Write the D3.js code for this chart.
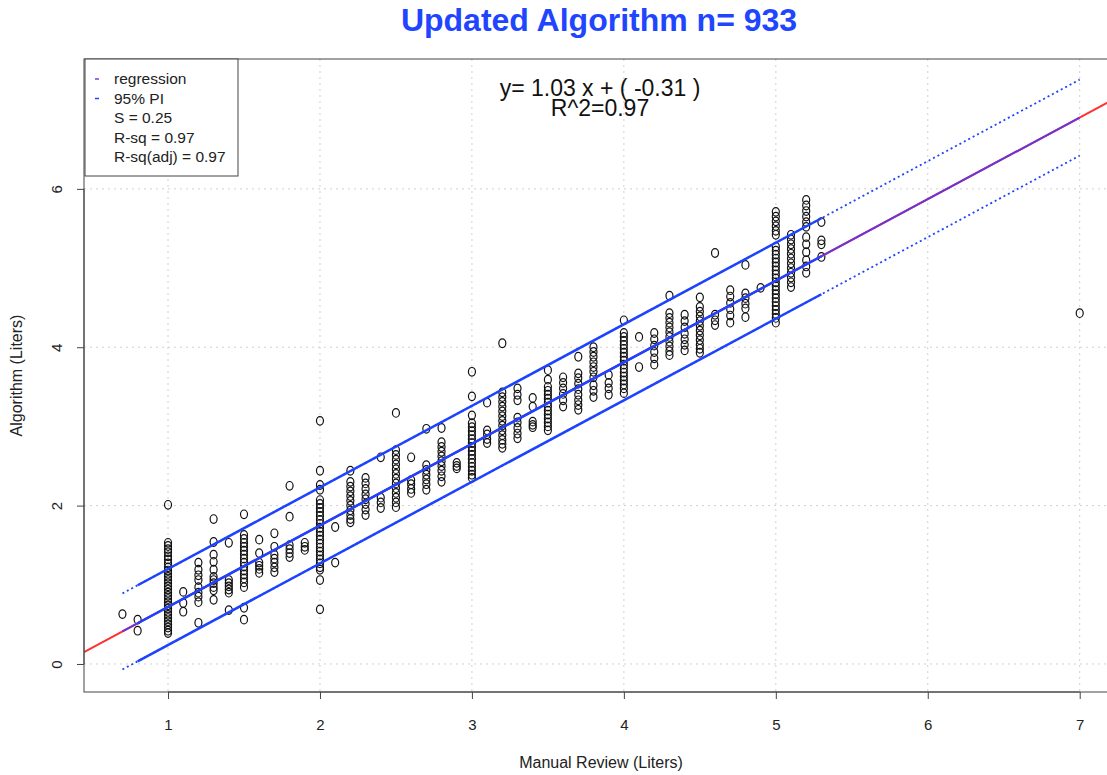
<!DOCTYPE html>
<html>
<head>
<meta charset="utf-8">
<script src="https://cdn.jsdelivr.net/npm/d3@7"></script>
<style>
  html, body { margin: 0; padding: 0; background: #fff; overflow: hidden; }
  svg { display: block; font-family: "Liberation Sans", Arial, sans-serif; }
</style>
</head>
<body>
<svg id="chart" width="1107" height="775"></svg>
<script>
// ─── Data ───────────────────────────────────────────────────────────────────
// One entry per manual-review value; algoY holds the algorithm readings there.
const manualX = [0.7, 0.8, 1.0, 1.1, 1.2, 1.3, 1.4, 1.5, 1.6, 1.7, 1.8, 1.9,
  2.0, 2.1, 2.2, 2.3, 2.4, 2.5, 2.6, 2.7, 2.8, 2.9, 3.0, 3.1, 3.2, 3.3, 3.4,
  3.5, 3.6, 3.7, 3.8, 3.9, 4.0, 4.1, 4.2, 4.3, 4.4, 4.5, 4.6, 4.7, 4.8, 4.9,
  5.0, 5.1, 5.2, 5.3, 7.0];

const algoY = [
  [0.63],
  [0.56, 0.42],
  [2.01, 1.53, 1.49, 1.45, 1.41, 1.36, 1.32, 1.27, 1.22, 1.18, 1.14, 1.10, 1.06, 1.02, 0.98,
   0.94, 0.90, 0.86, 0.82, 0.78, 0.74, 0.70, 0.66, 0.62, 0.58, 0.54, 0.50, 0.46, 0.42, 0.39],
  [0.91, 0.77, 0.66],
  [1.28, 1.19, 1.12, 1.06, 0.97, 0.90, 0.85, 0.78, 0.52],
  [1.83, 1.54, 1.38, 1.29, 1.19, 1.10, 1.06, 1.02, 0.97, 0.93, 0.81],
  [1.53, 1.06, 1.02, 0.98, 0.94, 0.90, 0.68],
  [1.89, 1.63, 1.58, 1.53, 1.48, 1.43, 1.38, 1.33, 1.28, 1.23, 1.18, 1.13, 1.08, 1.03, 0.97, 0.71, 0.56],
  [1.57, 1.40, 1.28, 1.24, 1.20, 1.15],
  [1.65, 1.48, 1.38, 1.33, 1.28, 1.22, 1.16],
  [2.25, 1.86, 1.50, 1.45, 1.40, 1.35],
  [1.53, 1.48, 1.44],
  [3.07, 2.44, 2.26, 2.20, 2.07, 2.02, 1.97, 1.92, 1.87, 1.82, 1.77, 1.72, 1.67, 1.62, 1.57,
   1.52, 1.47, 1.42, 1.37, 1.32, 1.27, 1.22, 1.19, 1.06, 0.69],
  [1.73, 1.28],
  [2.44, 2.30, 2.24, 2.18, 2.12, 2.06, 2.00, 1.94, 1.88, 1.83, 1.79],
  [2.35, 2.28, 2.21, 2.14, 2.08, 2.02, 1.95, 1.88],
  [2.61, 2.10, 2.04, 1.97],
  [3.17, 2.70, 2.64, 2.58, 2.52, 2.46, 2.40, 2.34, 2.28, 2.22, 2.16, 2.10, 2.04, 1.98],
  [2.61, 2.32, 2.27, 2.21, 2.16],
  [2.97, 2.51, 2.45, 2.39, 2.33, 2.27, 2.20],
  [2.98, 2.80, 2.74, 2.68, 2.62, 2.56, 2.50, 2.44, 2.37, 2.30],
  [2.54, 2.50, 2.47],
  [3.69, 3.38, 3.14, 3.04, 2.99, 2.94, 2.89, 2.84, 2.79, 2.74, 2.69, 2.64, 2.59, 2.54, 2.49, 2.44, 2.39, 2.35],
  [3.30, 2.95, 2.90, 2.84, 2.79],
  [4.05, 3.43, 3.37, 3.31, 3.25, 3.19, 3.13, 3.07, 3.01, 2.95, 2.89, 2.83, 2.78, 2.73],
  [3.48, 3.40, 3.33, 3.11, 3.05, 2.98, 2.91, 2.85],
  [3.36, 3.25, 3.06, 3.02, 2.99],
  [3.71, 3.59, 3.50, 3.45, 3.40, 3.35, 3.30, 3.25, 3.20, 3.15, 3.10, 3.05, 3.00, 2.95],
  [3.62, 3.55, 3.48, 3.41, 3.33, 3.25],
  [3.88, 3.67, 3.61, 3.54, 3.47, 3.40, 3.33, 3.27, 3.21],
  [4.00, 3.94, 3.88, 3.81, 3.75, 3.69, 3.62, 3.52, 3.45, 3.37],
  [3.65, 3.55, 3.48, 3.40],
  [4.34, 4.18, 4.13, 4.08, 4.03, 3.98, 3.93, 3.88, 3.83, 3.78, 3.73, 3.68, 3.63, 3.58, 3.53, 3.48, 3.42],
  [4.13, 3.75],
  [4.18, 4.10, 4.02, 3.94, 3.86, 3.78],
  [4.65, 4.43, 4.37, 4.31, 4.25, 4.19, 4.13, 4.07, 4.01, 3.95, 3.90],
  [4.41, 4.33, 4.25, 4.17, 4.10, 4.03, 3.96],
  [4.63, 4.51, 4.45, 4.39, 4.33, 4.27, 4.21, 4.15, 4.09, 4.03, 3.98, 3.93],
  [5.19, 4.41, 4.34, 4.28],
  [4.72, 4.64, 4.56, 4.48, 4.40, 4.31],
  [5.04, 4.68, 4.62, 4.55, 4.49, 4.38],
  [4.75],
  [5.71, 5.65, 5.59, 5.53, 5.47, 5.42, 5.27, 5.22, 5.17, 5.12, 5.07, 5.02, 4.97, 4.92, 4.87,
   4.82, 4.77, 4.72, 4.67, 4.62, 4.57, 4.52, 4.47, 4.42, 4.37, 4.31],
  [5.42, 5.36, 5.30, 5.24, 5.18, 5.12, 5.06, 5.00, 4.94, 4.88, 4.82, 4.76],
  [5.86, 5.79, 5.72, 5.65, 5.58, 5.52, 5.39, 5.30, 5.20, 5.10, 5.02, 4.94],
  [5.58, 5.35, 5.30, 5.14],
  [4.43]
];

const xTicks = [1, 2, 3, 4, 5, 6, 7];
const yTicks = [0, 2, 4, 6];

// Fitted line and 95% prediction interval
const fitSlope = 1.03;
const fitIntercept = -0.31;
const piHalfWidth = 0.48;
const fitRange = [0.7, 7.0];      // regression segment + dotted PI
const piSolidRange = [0.8, 5.3];  // solid PI / band segment

const titleText = 'Updated Algorithm n= 933';
const equationLines = ['y= 1.03 x + ( -0.31 )', 'R^2=0.97'];
const legendLabels = ['regression', '95% PI', 'S = 0.25', 'R-sq = 0.97', 'R-sq(adj) = 0.97'];
const legendColors = ['#7b3fd6', '#1d43ff', null, null, null];

// ─── Layout ──────────────────────────────────────────────────────────────────
const P = { left: 84, top: 59, right: 1118, bottom: 692 };

const RED = '#ff3030';
const BLUE = '#1d43ff';
const PURPLE = '#6a35d8';
const FONT = '"Liberation Sans", Arial, sans-serif';

const svg = d3.select('#chart');

const x = d3.scaleLinear().domain([0.447, 7.252]).range([P.left, P.right]);
const y = d3.scaleLinear().domain([-0.354, 7.64]).range([P.bottom, P.top]);

svg.append('defs').append('clipPath').attr('id', 'plotClip')
  .append('rect')
  .attr('x', P.left).attr('y', P.top)
  .attr('width', P.right - P.left).attr('height', P.bottom - P.top);

// ── Grid ───────────────────────────────────────────────────────────────────
const grid = svg.append('g')
  .attr('stroke', '#d0d0d0')
  .attr('stroke-width', 1)
  .attr('stroke-dasharray', '2,4');

grid.selectAll('line.v').data(xTicks).join('line')
  .attr('class', 'v')
  .attr('x1', d => x(d)).attr('x2', d => x(d))
  .attr('y1', P.top).attr('y2', P.bottom);

grid.selectAll('line.h').data(yTicks).join('line')
  .attr('class', 'h')
  .attr('x1', P.left).attr('x2', P.right)
  .attr('y1', d => y(d)).attr('y2', d => y(d));

// ── Points ───────────────────────────────────────────────────────────────────
const points = manualX.flatMap((mx, i) => algoY[i].map(v => ({ mx, v })));

svg.append('g')
  .attr('fill', 'none')
  .attr('stroke', '#111')
  .attr('stroke-width', 1.2)
  .selectAll('ellipse')
  .data(points)
  .join('ellipse')
  .attr('cx', d => x(d.mx))
  .attr('cy', d => y(d.v))
  .attr('rx', 3.5)
  .attr('ry', 4.3);

// ── Fit lines ──────────────────────────────────────────────────────────────
const fit = v => fitSlope * v + fitIntercept;
const lines = svg.append('g').attr('clip-path', 'url(#plotClip)').attr('fill', 'none');

function seg(x0, x1, off, color, width, dash) {
  lines.append('line')
    .attr('x1', x(x0)).attr('y1', y(fit(x0) + off))
    .attr('x2', x(x1)).attr('y2', y(fit(x1) + off))
    .attr('stroke', color)
    .attr('stroke-width', width)
    .attr('stroke-dasharray', dash || null);
}

// abline across the full plot
seg(x.domain()[0], x.domain()[1], 0, RED, 2);
// regression over the data range
seg(fitRange[0], fitRange[1], 0, PURPLE, 2);
// dotted PI over the data range
seg(fitRange[0], fitRange[1], piHalfWidth, BLUE, 1.8, '2,3');
seg(fitRange[0], fitRange[1], -piHalfWidth, BLUE, 1.8, '2,3');
// solid PI and centre band
seg(piSolidRange[0], piSolidRange[1], piHalfWidth, BLUE, 2.5);
seg(piSolidRange[0], piSolidRange[1], 0, BLUE, 2.5);
seg(piSolidRange[0], piSolidRange[1], -piHalfWidth, BLUE, 2.5);

// ── Frame + axes ─────────────────────────────────────────────────────────────
svg.append('rect')
  .attr('x', P.left).attr('y', P.top)
  .attr('width', P.right - P.left).attr('height', P.bottom - P.top)
  .attr('fill', 'none').attr('stroke', '#444').attr('stroke-width', 1);

const xAxis = svg.append('g')
  .attr('transform', `translate(0,${P.bottom})`)
  .call(d3.axisBottom(x).tickValues(xTicks).tickFormat(d3.format('d')).tickSizeOuter(0).tickSize(7).tickPadding(20));
xAxis.select('.domain').attr('d', `M${x(1)},0H${x(7)}`).attr('stroke', '#444');
xAxis.selectAll('.tick line').attr('stroke', '#444');
xAxis.selectAll('text').attr('font-size', 15).attr('fill', '#222').attr('font-family', FONT);

const yAxis = svg.append('g')
  .attr('transform', `translate(${P.left},0)`)
  .call(d3.axisLeft(y).tickValues(yTicks).tickFormat(d3.format('d')).tickSizeOuter(0).tickSize(7));
yAxis.select('.domain').attr('d', `M0,${y(0)}V${y(6)}`).attr('stroke', '#444');
yAxis.selectAll('.tick line').attr('stroke', '#444');
yAxis.selectAll('text')
  .attr('font-size', 15).attr('fill', '#222')
  .attr('font-family', FONT)
  .attr('x', null)
  .attr('text-anchor', 'middle')
  .attr('transform', 'translate(-27,0) rotate(-90)')
  .attr('dy', '0.35em');

// Axis titles
svg.append('text')
  .attr('x', (P.left + P.right) / 2).attr('y', 768)
  .attr('text-anchor', 'middle')
  .attr('font-size', 16).attr('fill', '#222')
  .text('Manual Review (Liters)');

svg.append('text')
  .attr('transform', `translate(22,${(P.top + P.bottom) / 2}) rotate(-90)`)
  .attr('text-anchor', 'middle')
  .attr('font-size', 16).attr('fill', '#222')
  .text('Algorithm (Liters)');

// Title
svg.append('text')
  .attr('x', 599).attr('y', 31)
  .attr('text-anchor', 'middle')
  .attr('font-size', 32).attr('font-weight', 'bold')
  .attr('fill', '#1f45ff')
  .text(titleText);

// Equation
svg.append('g').selectAll('text')
  .data(equationLines)
  .join('text')
  .attr('x', 600)
  .attr('y', (d, i) => 96 + i * 20)
  .attr('text-anchor', 'middle')
  .attr('font-size', 23).attr('fill', '#111')
  .text(d => d);

// ── Legend ─────────────────────────────────────────────────────────────────
const legend = svg.append('g');
legend.append('rect')
  .attr('x', P.left + 1).attr('y', P.top)
  .attr('width', 153).attr('height', 117)
  .attr('fill', '#fff').attr('stroke', '#444').attr('stroke-width', 1);

const item = legend.selectAll('g.item')
  .data(legendLabels)
  .join('g')
  .attr('class', 'item')
  .attr('transform', (d, i) => `translate(${P.left},${79 + i * 19.5})`);

item.filter((d, i) => legendColors[i])
  .append('line')
  .attr('x1', 11).attr('x2', 15)
  .attr('y1', 0).attr('y2', 0)
  .attr('stroke', d => legendColors[legendLabels.indexOf(d)])
  .attr('stroke-width', 1.5);

item.append('text')
  .attr('x', 30).attr('y', 0)
  .attr('dy', '0.35em')
  .attr('font-size', 15.5).attr('fill', '#222')
  .text(d => d);
</script>
</body>
</html>
